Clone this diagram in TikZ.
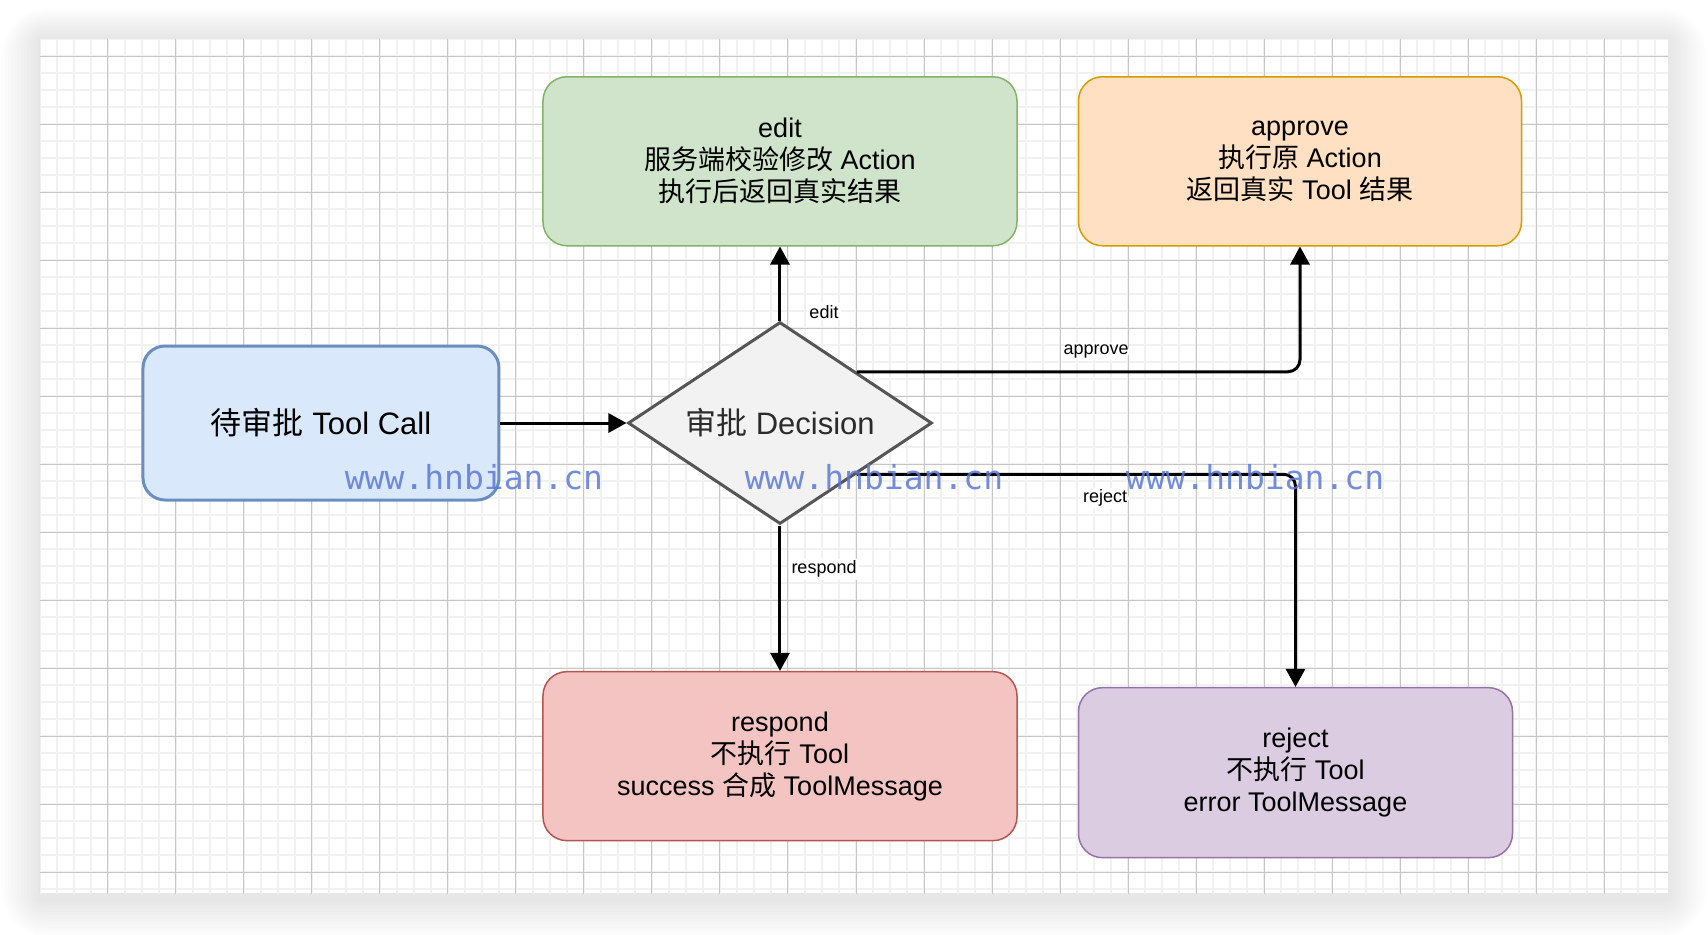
\documentclass[tikz,border=0pt]{standalone}
\usepackage{fontspec}
\setmainfont{Liberation Sans}
\newfontfamily\cjk{Noto Sans CJK SC}
\newfontfamily\wmfont{DejaVu Sans Mono}
\usetikzlibrary{shapes.geometric,arrows.meta,positioning,calc}
\usepackage{xcolor}
\definecolor{pendfill}{HTML}{DAE8FC}
\definecolor{pendline}{HTML}{6C8EBF}
\definecolor{decfill}{HTML}{F2F2F2}
\definecolor{decline}{HTML}{555555}
\definecolor{dectext}{HTML}{2B2B2B}
\definecolor{editfill}{HTML}{D0E4CB}
\definecolor{editline}{HTML}{82B366}
\definecolor{apprfill}{HTML}{FFE0C2}
\definecolor{apprline}{HTML}{D79B00}
\definecolor{respfill}{HTML}{F4C4C2}
\definecolor{respline}{HTML}{B85450}
\definecolor{rejfill}{HTML}{DCCCE2}
\definecolor{rejline}{HTML}{9673A6}
\definecolor{gridminor}{HTML}{F1F1F1}
\definecolor{gridmajor}{HTML}{C6C6C6}
\definecolor{wmblue}{HTML}{5C78D6}

\begin{document}
\begin{tikzpicture}[
  node distance=30pt,
  box/.style={rectangle, draw, rounded corners=12pt, line width=0.75pt, minimum width=237pt, minimum height=84.5pt, align=center, font=\fontsize{13.5pt}{16pt}\selectfont},
  pendbox/.style={rectangle, draw=pendline, fill=pendfill, rounded corners=11pt, line width=1.5pt, minimum width=178pt, minimum height=77pt, align=center, font=\fontsize{15.5pt}{18pt}\selectfont},
  decision/.style={diamond, draw=decline, fill=decfill, line width=1.5pt, minimum width=152pt, minimum height=101pt, inner sep=0pt, aspect=1.5, text=dectext, font=\fontsize{15.5pt}{18pt}\selectfont},
  arrow/.style={-{Triangle[length=9pt,width=9.5pt]}, line width=1.5pt},
  lbl/.style={fill=white, inner sep=1pt, font=\fontsize{9pt}{11pt}\selectfont},
  wm/.style={text=wmblue, text opacity=0.85, inner sep=0pt, font=\wmfont\fontsize{16.5pt}{18pt}\selectfont}
]
  \useasboundingbox (-390pt,-255.5pt) rectangle (464pt,211.5pt);
  \fill[white] (-390pt,-255.5pt) rectangle (464pt,211.5pt);
  \foreach \i in {1,...,12}
    \fill[black, opacity=0.006, rounded corners=2pt*\i] (-370pt-1.6pt*\i,-238pt-1.6pt*\i) rectangle (444pt+1.6pt*\i,192pt+1.3pt*\i);
  \begin{scope}
    \clip (-370pt,-235pt) rectangle (444pt,192pt);
    \fill[white] (-370pt,-235pt) rectangle (444pt,192pt);
    \draw[gridminor, line width=1pt, shift={(-370pt,183.5pt)}] (-10pt,-430pt) grid[step=8.5pt] (830pt,20pt);
    \draw[gridmajor, line width=0.5pt, shift={(-370pt,183.5pt)}] (-10pt,-430pt) grid[step=34pt] (830pt,20pt);
  \end{scope}

  \node[decision] (dec) at (0,0) {{\cjk 审批} Decision};
  \node[pendbox, left=63pt of dec] (pend) {{\cjk 待审批} Tool Call};
  \node[box, fill=editfill, draw=editline, above=37pt of dec] (edit) {edit\\{\cjk 服务端校验修改} Action\\{\cjk 执行后返回真实结果}};
  \node[box, fill=apprfill, draw=apprline, right=30pt of edit, minimum width=221.5pt] (appr) {approve\\{\cjk 执行原} Action\\{\cjk 返回真实} Tool {\cjk 结果}};
  \node[box, fill=respfill, draw=respline, below=72.7pt of dec] (resp) {respond\\{\cjk 不执行} Tool\\success {\cjk 合成} ToolMessage};
  \node[box, fill=rejfill, draw=rejline, right=30pt of resp, yshift=-8.25pt, minimum width=217pt, minimum height=85pt] (rej) {reject\\{\cjk 不执行} Tool\\error ToolMessage};

  \draw[arrow] (pend) -- (dec.west);
  \draw[arrow] (dec.north) -- (edit.south) node[pos=0.12, right=13pt, lbl] {edit};
  \draw[arrow, rounded corners=6pt] ($(dec.north)!0.5!(dec.east)$) -| (appr.south) node[pos=0.27, above=5pt, lbl] {approve};
  \draw[arrow, rounded corners=6pt] ($(dec.south)!0.5!(dec.east)$) -| (rej.north) node[pos=0.283, below=6pt, lbl] {reject};
  \draw[arrow] (dec.south) -- (resp.north) node[pos=0.3, right=4pt, lbl] {respond};

  \node[wm] (wm1) at ([shift={(-153pt,-27pt)}]dec.center) {www.hnbian.cn};
  \node[wm] (wm2) at ([shift={(47pt,-27pt)}]dec.center) {www.hnbian.cn};
  \node[wm] (wm3) at ([shift={(237.5pt,-27pt)}]dec.center) {www.hnbian.cn};
\end{tikzpicture}
\end{document}
